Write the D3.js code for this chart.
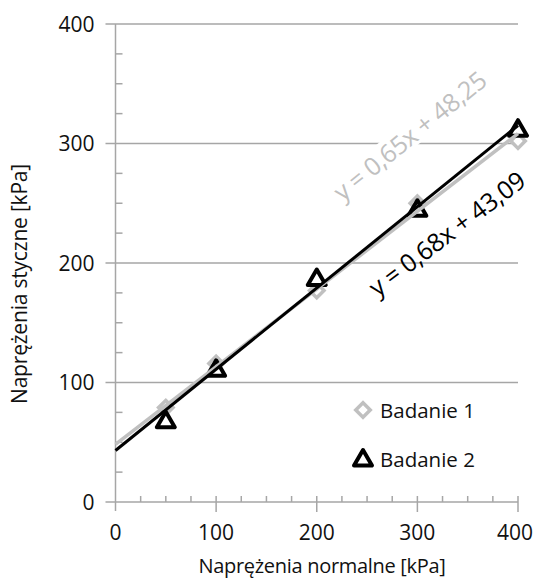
<!DOCTYPE html>
<html>
<head>
<meta charset="utf-8">
<script src="https://cdn.jsdelivr.net/npm/d3@7"></script>
<style>
  body { margin: 0; background: #fff; }
  text { font-family: "Open Sans", sans-serif; fill: #111; }
</style>
</head>
<body>
<div id="chart"></div>
<script>
// data
const xValues = [50, 100, 200, 300, 400];
const badanie1 = [79, 116, 177, 250, 302];
const badanie2 = [68, 111, 187, 245, 312];
const seriesNames = ["Badanie 1", "Badanie 2"];
// trend line coefficients as printed on the chart
const trend1 = { slope: 0.65, intercept: 48.25, label: "y = 0,65x + 48,25" };
const trend2 = { slope: 0.68, intercept: 43.09, label: "y = 0,68x + 43,09" };
const xTicks = [0, 100, 200, 300, 400];
const yTicks = [0, 100, 200, 300, 400];
const xTitle = "Naprężenia normalne [kPa]";
const yTitle = "Naprężenia styczne [kPa]";

const W = 535, H = 581;
const axisColor = "#a6a6a6";

const svg = d3.select("#chart").append("svg")
    .attr("width", W)
    .attr("height", H);

const x = d3.scaleLinear().domain([0, 400]).range([115.5, 518]);
const y = d3.scaleLinear().domain([0, 400]).range([502, 24]);

// horizontal gridlines
svg.append("g")
   .selectAll("line")
   .data(yTicks.filter(d => d > 0))
   .enter().append("line")
   .attr("x1", x(0) - 10).attr("x2", x(400))
   .attr("y1", d => y(d)).attr("y2", d => y(d))
   .attr("stroke", axisColor).attr("stroke-width", 1.5);

// y axis with minor ticks pointing right
const yAxis = svg.append("g").attr("transform", `translate(${x(0)},0)`);
yAxis.append("line")
     .attr("y1", y(400)).attr("y2", y(0) + 9)
     .attr("stroke", axisColor).attr("stroke-width", 1.5);
yAxis.selectAll(".minor")
     .data(d3.range(0, 401, 25).filter(d => d % 100 !== 0))
     .enter().append("line")
     .attr("x1", 0).attr("x2", 7)
     .attr("y1", d => y(d)).attr("y2", d => y(d))
     .attr("stroke", axisColor).attr("stroke-width", 1.5);
yAxis.selectAll(".lab")
     .data(yTicks)
     .enter().append("text")
     .attr("x", -21)
     .attr("y", d => y(d))
     .attr("dy", "0.36em")
     .attr("text-anchor", "end")
     .style("font-size", "21px")
     .text(d => d);

// x axis
const xAxis = svg.append("g").attr("transform", `translate(0,${y(0)})`);
xAxis.append("line")
     .attr("x1", x(0) - 10).attr("x2", x(400))
     .attr("stroke", axisColor).attr("stroke-width", 1.5);
xAxis.selectAll(".minor")
     .data(d3.range(0, 401, 25).filter(d => d % 100 !== 0))
     .enter().append("line")
     .attr("x1", d => x(d)).attr("x2", d => x(d))
     .attr("y1", 0).attr("y2", -6)
     .attr("stroke", axisColor).attr("stroke-width", 1.5);
xAxis.selectAll(".major")
     .data(xTicks.filter(d => d > 0))
     .enter().append("line")
     .attr("x1", d => x(d)).attr("x2", d => x(d))
     .attr("y1", -6).attr("y2", 10)
     .attr("stroke", axisColor).attr("stroke-width", 1.5);
xAxis.selectAll(".lab")
     .data(xTicks)
     .enter().append("text")
     .attr("x", d => d === 400 ? x(d) - 3 : x(d))
     .attr("y", 38)
     .attr("text-anchor", "middle")
     .style("font-size", "21px")
     .text(d => d);

// axis titles
svg.append("text")
   .attr("x", 322).attr("y", 573)
   .attr("text-anchor", "middle")
   .style("font-size", "20px")
   .style("letter-spacing", "-0.3px")
   .text(xTitle);
svg.append("text")
   .attr("transform", "translate(27,284) rotate(-90)")
   .attr("text-anchor", "middle")
   .style("font-size", "21px")
   .style("letter-spacing", "-0.2px")
   .text(yTitle);

// markers
const diamond = d3.symbol().type(d3.symbolSquare).size(105);
const triangle = "M0,-9 L9,6.5 L-9,6.5 Z";

svg.append("g")
   .selectAll("path")
   .data(xValues.map((v, i) => [v, badanie1[i]]))
   .enter().append("path")
   .attr("d", diamond())
   .attr("transform", d => `translate(${x(d[0])},${y(d[1])}) rotate(45)`)
   .attr("fill", "#fff")
   .attr("stroke", "#c0c0c0")
   .attr("stroke-width", 3.5);

svg.append("g")
   .selectAll("path")
   .data(xValues.map((v, i) => [v, badanie2[i]]))
   .enter().append("path")
   .attr("d", triangle)
   .attr("transform", d => `translate(${x(d[0])},${y(d[1])})`)
   .attr("fill", "#fff")
   .attr("stroke", "#000")
   .attr("stroke-width", 4)
   .attr("stroke-linejoin", "round");

// trend lines
const line = d3.line().x(d => x(d[0])).y(d => y(d[1]));
[[trend1, "#c0c0c0", 3.5], [trend2, "#000", 3]].forEach(([t, c, w]) => {
    svg.append("path")
       .attr("d", line([0, 400].map(v => [v, t.slope * v + t.intercept])))
       .attr("fill", "none")
       .attr("stroke", c)
       .attr("stroke-width", w);
});

// equation labels
function addLabel(t, cx, cy, angle, color, bg) {
    const g = svg.append("g").attr("transform", `translate(${cx},${cy}) rotate(${angle})`);
    const txt = g.append("text")
       .attr("text-anchor", "middle")
       .attr("dy", "0.35em")
       .style("font-size", "25px")
       .style("letter-spacing", "-0.3px")
       .style("fill", color)
       .text(t.label);
    if (bg) {
        const b = txt.node().getBBox();
        g.insert("rect", "text")
         .attr("x", b.x - 2).attr("y", b.y + 4)
         .attr("width", b.width + 4).attr("height", b.height - 8)
         .attr("fill", "#fff");
    }
}
addLabel(trend1, 410, 136, -39, "#c0c0c0", true);
addLabel(trend2, 447, 234, -37, "#000", false);

// legend
const legend = svg.append("g");
legend.append("path")
      .attr("d", diamond())
      .attr("transform", "translate(363,410) rotate(45)")
      .attr("fill", "#fff").attr("stroke", "#c0c0c0").attr("stroke-width", 3.5);
legend.append("path")
      .attr("d", triangle)
      .attr("transform", "translate(363,459)")
      .attr("fill", "#fff").attr("stroke", "#000").attr("stroke-width", 4)
      .attr("stroke-linejoin", "round");
legend.selectAll("text")
      .data(seriesNames)
      .enter().append("text")
      .attr("x", 380)
      .attr("y", (d, i) => 418 + i * 49)
      .style("font-size", "20.5px")
      .text(d => d);
</script>
</body>
</html>
